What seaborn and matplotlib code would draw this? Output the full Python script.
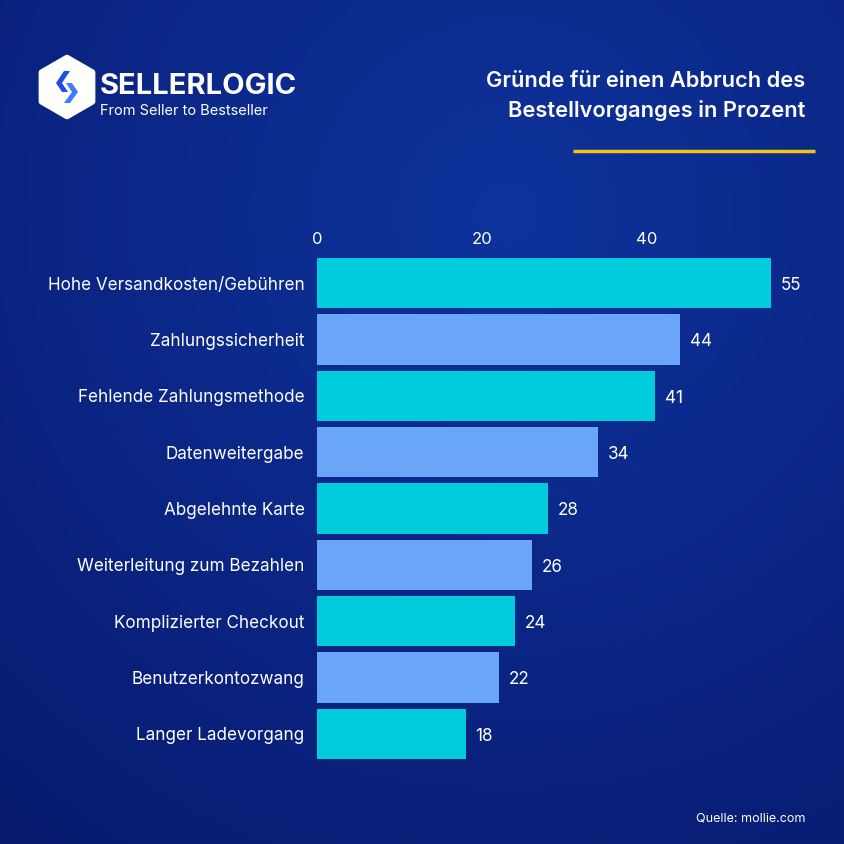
import numpy as np
import pandas as pd
import seaborn as sns
import matplotlib.pyplot as plt
from matplotlib.patches import RegularPolygon, Polygon

# data
reasons = [
    'Hohe Versandkosten/Gebühren', 'Zahlungssicherheit', 'Fehlende Zahlungsmethode',
    'Datenweitergabe', 'Abgelehnte Karte', 'Weiterleitung zum Bezahlen',
    'Komplizierter Checkout', 'Benutzerkontozwang', 'Langer Ladevorgang'
]
percent = [55, 44, 41, 34, 28, 26, 24, 22, 18]
x_ticks = [0, 20, 40]

title = 'Gründe für einen Abbruch des\nBestellvorganges in Prozent'
source = 'Quelle: mollie.com'

cyan = '#00CCDC'
light_blue = '#6AA6F8'
bar_colors = [cyan if i % 2 == 0 else light_blue for i in range(len(reasons))]

df = pd.DataFrame({'reason': reasons, 'percent': percent})

sns.set_theme(style='white')
plt.rcParams['font.family'] = ['Inter', 'DejaVu Sans']

W = H = 844
fig = plt.figure(figsize=(8.44, 8.44), dpi=100)

# background gradient
bg = fig.add_axes([0, 0, 1, 1])
yy, xx = np.mgrid[0:1:200j, 0:1:200j]
r = np.sqrt((xx - 0.6) ** 2 + (yy - 0.25) ** 2)
top = np.array([0x0E, 0x33, 0x9C]) / 255
bot = np.array([0x08, 0x1A, 0x70]) / 255
t = np.clip(r / 0.95, 0, 1)[..., None]
img = top * (1 - t) + bot * t
bg.imshow(img, extent=[0, 1, 0, 1], aspect='auto', origin='upper')
bg.set_xlim(0, 1)
bg.set_ylim(0, 1)
bg.axis('off')

def fx(px):
    return px / W

def fy(py):
    return 1 - py / H

# main chart
ax_left, ax_right = 317, 800
ax_top, ax_bot = 255, 762
ax = fig.add_axes([fx(ax_left), fy(ax_bot), fx(ax_right - ax_left), (ax_bot - ax_top) / H])
ax.patch.set_alpha(0)
sns.barplot(data=df, x='percent', y='reason', hue='reason', palette=bar_colors,
            legend=False, width=0.89, ax=ax, saturation=1, linewidth=0, edgecolor='none')
ax.set_xlim(0, (ax_right - ax_left) / 8.25)
ax.xaxis.tick_top()
ax.set_xticks(x_ticks)
ax.tick_params(axis='x', colors='white', labelsize=12, length=0, pad=6)
ax.tick_params(axis='y', colors='white', labelsize=12.3, length=0, pad=9)
ax.set_xlabel('')
ax.set_ylabel('')
for s in ax.spines.values():
    s.set_visible(False)

for p, v in zip(ax.patches, percent):
    ax.text(p.get_width() + 1.2, p.get_y() + p.get_height() / 2 + 0.04, str(v),
            color='white', fontsize=12.3, va='center', ha='left')

# title and yellow rule
fig.text(fx(805), fy(96), title, color='white', fontsize=15.7, fontweight='semibold',
         ha='right', va='center', linespacing=1.5)
bg.plot([fx(573), fx(815)], [fy(151), fy(151)], color='#F2C511', lw=2.5,
        solid_capstyle='butt')

# logo
hexagon = RegularPolygon((fx(67), fy(87)), numVertices=6, radius=0.035,
                         orientation=0, facecolor='white', edgecolor='white',
                         lw=4, joinstyle='round', transform=bg.transAxes)
bg.add_patch(hexagon)
dark = '#1D4EE8'
lite = '#3D7BFF'
chev_left = [(64, 71), (70, 71), (62, 83), (68, 92), (62, 92), (56, 83)]
chev_right = [(66, 83), (72, 83), (78, 92), (70, 103), (64, 103), (72, 92)]
bg.add_patch(Polygon([(fx(a), fy(b)) for a, b in chev_left], closed=True,
                     facecolor=dark, edgecolor='none'))
bg.add_patch(Polygon([(fx(a), fy(b)) for a, b in chev_right], closed=True,
                     facecolor=lite, edgecolor='none'))
fig.text(fx(100), fy(86), 'SELLERLOGIC', color='white', fontsize=21,
         fontweight='bold', ha='left', va='center')
fig.text(fx(100), fy(111), 'From Seller to Bestseller', color='white',
         fontsize=10.5, ha='left', va='center')

# source
fig.text(fx(805), fy(819), source, color='white', fontsize=9, ha='right', va='center')

fig.savefig('out.png', dpi=100)
